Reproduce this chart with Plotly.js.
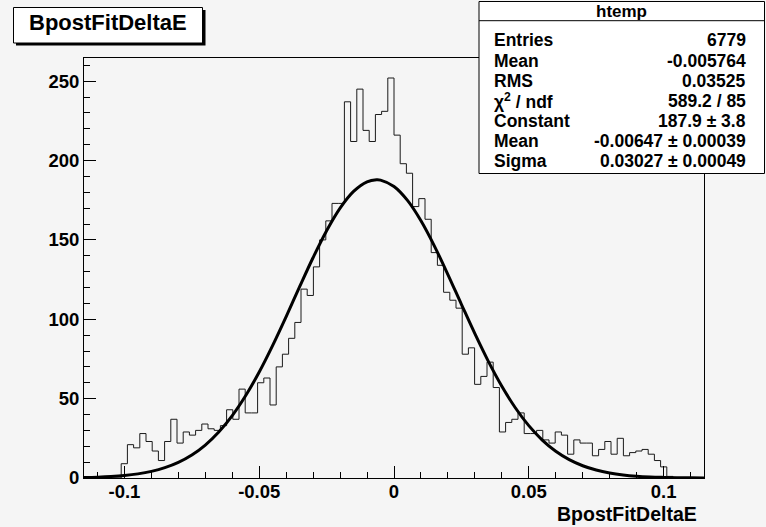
<!DOCTYPE html>
<html>
<head>
<meta charset="utf-8">
<script src="https://cdn.plot.ly/plotly-3.0.1.min.js"></script>
<style>html,body{margin:0;padding:0;background:#f5f5f5;}</style>
</head>
<body>
<div id="chart" style="width:766px;height:527px;"></div>
<script>
// ---- data ----
const histName = "BpostFitDeltaE";
const xMin = -0.115;
const binWidth = 0.0023;
const counts = [
  0, 0, 0, 0, 0, 0, 9, 21, 19, 28,
  23, 17, 11, 23, 37, 22, 29, 27, 30, 34,
  31, 30, 33, 43, 37, 56, 41, 41, 60, 63,
  46, 70, 78, 88, 98, 119, 115, 133, 150, 162,
  173, 173, 237, 212, 245, 219, 212, 229, 231, 252,
  216, 198, 192, 171, 176, 163, 142, 134, 117, 112,
  107, 78, 82, 59, 64, 73, 57, 29, 35, 37,
  41, 28, 28, 30, 24, 22, 29, 27, 15, 24,
  22, 22, 14, 18, 23, 15, 25, 14, 16, 17,
  18, 15, 11, 7, 1, 0, 0, 0, 0, 0
];
const fitX = [-0.115,-0.11,-0.105,-0.1,-0.095,-0.09,-0.085,-0.08,-0.075,-0.07,-0.065,-0.06,-0.055,-0.05,-0.045,-0.04,-0.035,-0.03,-0.025,-0.02,-0.015,-0.01,-0.00647,-0.005,0,
  0.005,0.01,0.015,0.02,0.025,0.03,0.035,0.04,0.045,0.05,0.055,0.06,0.065,0.07,0.075,0.08,0.085,0.09,0.095,0.1,0.105,0.11,0.115];
const fitY = [0.30,0.54,0.94,1.59,2.61,4.17,6.50,9.83,14.49,20.77,28.98,39.34,51.97,66.81,83.59,101.74,120.51,138.91,155.79,170.04,180.59,186.63,187.9,187.68,183.66,
  174.88,162.05,146.11,128.20,109.45,90.93,73.51,57.83,44.27,32.98,23.90,16.86,11.58,7.73,5.03,3.18,1.96,1.17,0.68,0.39,0.21,0.12,0.06];
const xTickVals = [-0.1, -0.05, 0, 0.05, 0.1];
const xTickText = ["-0.1", "-0.05", "0", "0.05", "0.1"];
const yTickVals = [0, 50, 100, 150, 200, 250];
const yTickText = ["0", "50", "100", "150", "200", "250"];
const statsTitle = "htemp";
const statsLabels = ["Entries", "Mean", "RMS", "χ<sup>2</sup> / ndf", "Constant", "Mean", "Sigma"];
const statsValues = ["6779", "-0.005764", "0.03525", "589.2 / 85", "187.9 ± 3.8", "-0.00647 ± 0.00039", "0.03027 ± 0.00049"];
const yMax = 252 * 1.05;

// ---- build histogram outline ----
const edges = [], stepY = [];
for (let k = 0; k <= counts.length; k++) {
  edges.push(xMin + k * binWidth);
  stepY.push(counts[Math.min(k, counts.length - 1)]);
}

// pixel -> paper helpers (plot area: x 84..704, y 58..478)
const L = 84, R = 704, T = 58, B = 478;
const px = v => (v - L) / (R - L);
const py = v => (B - v) / (B - T);

const FONT = "Liberation Sans, Arial, Helvetica, sans-serif";

const traces = [
  {
    x: edges, y: stepY, type: "scatter", mode: "lines",
    line: {shape: "hv", color: "#1a1a1a", width: 1},
    hoverinfo: "skip", showlegend: false
  },
  {
    x: fitX, y: fitY, type: "scatter", mode: "lines",
    line: {shape: "spline", color: "#000", width: 3},
    hoverinfo: "skip", showlegend: false
  }
];

const shapes = [
  // title box shadow + box
  {type: "rect", xref: "paper", yref: "paper", x0: px(16), x1: px(205.5), y0: py(10), y1: py(45.5),
   fillcolor: "#000", line: {width: 0}, layer: "above"},
  {type: "rect", xref: "paper", yref: "paper", x0: px(13.5), x1: px(202.5), y0: py(7.5), y1: py(43),
   fillcolor: "#fff", line: {color: "#000", width: 1}, layer: "above"},
  // stats box
  {type: "rect", xref: "paper", yref: "paper", x0: px(479), x1: px(764.5), y0: py(1.5), y1: py(173.5),
   fillcolor: "#fff", line: {color: "#000", width: 1}, layer: "above"},
  {type: "line", xref: "paper", yref: "paper", x0: px(479), x1: px(764.5), y0: py(20.7), y1: py(20.7),
   line: {color: "#000", width: 1}, layer: "above"}
];

const annotations = [
  {text: "<b>" + histName + "</b>", xref: "paper", yref: "paper", x: px(108), y: py(22),
   xanchor: "center", yanchor: "middle", showarrow: false, font: {family: FONT, size: 22, color: "#000"}},
  {text: "<b>" + histName + "</b>", xref: "paper", yref: "paper", x: px(699), y: py(514),
   xanchor: "right", yanchor: "middle", showarrow: false, font: {family: FONT, size: 19.5, color: "#000"}},
  {text: "<b>" + statsTitle + "</b>", xref: "paper", yref: "paper", x: px(621.5), y: py(12),
   xanchor: "center", yanchor: "middle", showarrow: false, font: {family: FONT, size: 17, color: "#000"}}
];
statsLabels.forEach((lab, i) => {
  const yc = 40.5 + i * 20.1;
  annotations.push({text: "<b>" + lab + "</b>", xref: "paper", yref: "paper", x: px(492), y: py(yc),
    xanchor: "left", yanchor: "middle", showarrow: false, font: {family: FONT, size: 17.5, color: "#000"}});
  annotations.push({text: "<b>" + statsValues[i] + "</b>", xref: "paper", yref: "paper", x: px(747.5), y: py(yc),
    xanchor: "right", yanchor: "middle", showarrow: false, font: {family: FONT, size: 17.5, color: "#000"}});
});

const layout = {
  width: 766, height: 527,
  margin: {l: L, r: 766 - R, t: T, b: 527 - B, pad: 0},
  paper_bgcolor: "#f5f5f5", plot_bgcolor: "#f5f5f5",
  showlegend: false,
  xaxis: {
    range: [xMin, xMin + binWidth * counts.length],
    tickmode: "array", tickvals: xTickVals, ticktext: xTickText,
    ticks: "inside", ticklen: 12, tickwidth: 1, tickcolor: "#000",
    minor: {tickmode: "linear", tick0: 0, dtick: 0.01, ticks: "inside", ticklen: 6, tickwidth: 1, tickcolor: "#000", showgrid: false},
    showline: true, linecolor: "#000", linewidth: 1, mirror: true,
    showgrid: false, zeroline: false, ticklabelstandoff: -3,
    tickfont: {family: FONT, size: 18.5, color: "#000", weight: "bold"}
  },
  yaxis: {
    range: [0, yMax],
    tickmode: "array", tickvals: yTickVals, ticktext: yTickText,
    ticks: "inside", ticklen: 12, tickwidth: 1, tickcolor: "#000",
    minor: {tickmode: "linear", tick0: 0, dtick: 10, ticks: "inside", ticklen: 6, tickwidth: 1, tickcolor: "#000", showgrid: false},
    showline: true, linecolor: "#000", linewidth: 1, mirror: true,
    showgrid: false, zeroline: false,
    tickfont: {family: FONT, size: 18.5, color: "#000", weight: "bold"}
  },
  shapes: shapes,
  annotations: annotations
};

Plotly.newPlot("chart", traces, layout, {staticPlot: true, displayModeBar: false});
</script>
</body>
</html>
